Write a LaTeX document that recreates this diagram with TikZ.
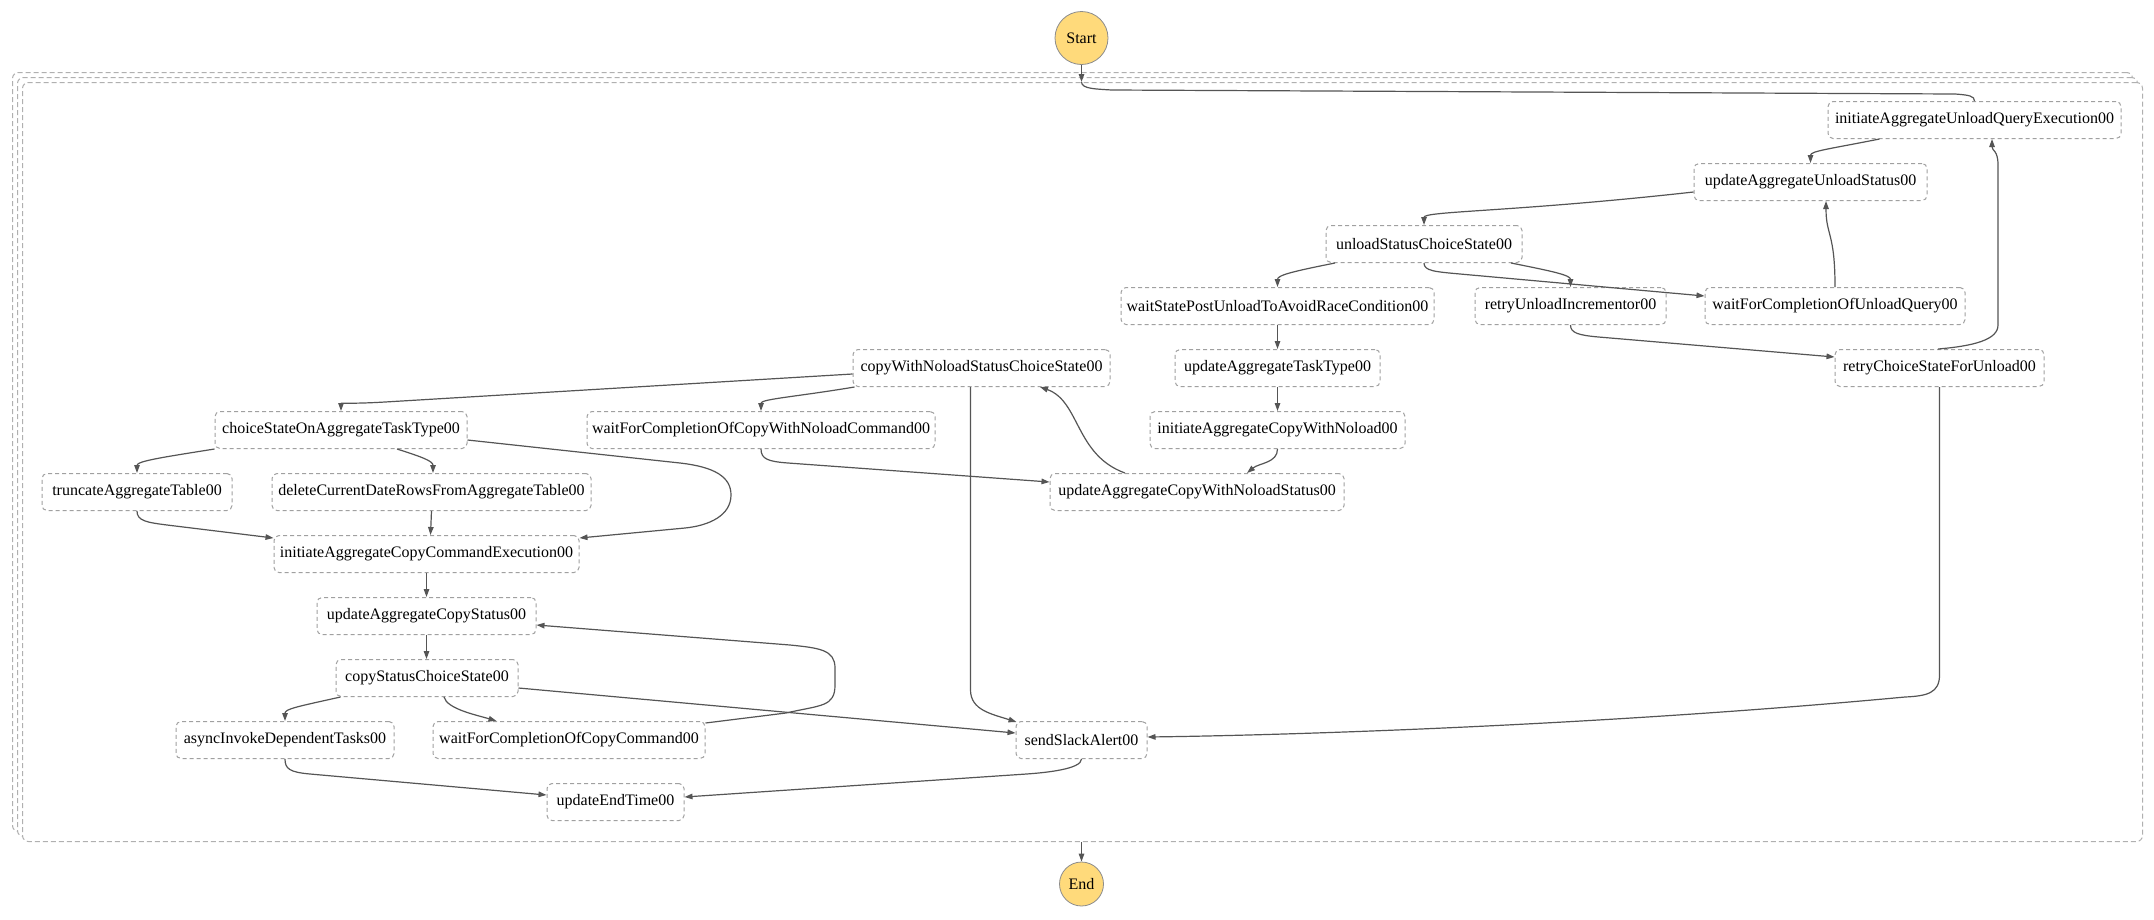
\documentclass[tikz,border=0pt]{standalone}
\usepackage{fontspec}
\setmainfont{Liberation Serif}
\usetikzlibrary{arrows.meta,calc}
\definecolor{boxgray}{HTML}{A0A0A0}
\definecolor{contgray}{HTML}{B0B0B0}
\definecolor{edgegray}{HTML}{555555}
\definecolor{termfill}{HTML}{FFDA7B}
\definecolor{termborder}{HTML}{8C8C8C}
\tikzset{
  statebox/.style={draw=boxgray, dash pattern=on 4pt off 3pt, rounded corners=5pt, fill=white,
    minimum height=37pt, inner sep=0pt, line width=1pt, font=\fontsize{16}{19}\selectfont},
  termnode/.style={circle, draw=termborder, fill=termfill, inner sep=0pt, line width=0.8pt,
    font=\fontsize{16}{19}\selectfont},
  contbox/.style={draw=contgray, dash pattern=on 5pt off 3pt, rounded corners=6pt, fill=white,
    inner sep=0pt, line width=1pt, anchor=north west, minimum width=2120pt, minimum height=759pt},
  link/.style={draw=edgegray, line width=1.2pt},
  flow/.style={link, -{Triangle[length=8pt,width=5.5pt]}},
}
\begin{document}
\begin{tikzpicture}[x=1pt,y=-1pt]
\fill[white] (0,0) rectangle (2154,919);
\useasboundingbox (0,0) rectangle (2154,919);

% container (stacked)
\node[contbox] (stackA) at (12,72) {};
\node[contbox] (stackB) at (17,77) {};
\node[contbox] (outer) at (22,82) {};

% terminals
\node[termnode, minimum size=53pt] (startnode) at (1081.5,38) {Start};
\node[termnode, minimum size=44pt] (endnode) at (1081.5,884) {End};

% states
\node[statebox, minimum width=293pt] (initUQE) at (1974.5,120) {initiateAggregateUnloadQueryExecution00};
\node[statebox, minimum width=233pt] (updUS) at (1810.5,182) {updateAggregateUnloadStatus00};
\node[statebox, minimum width=196pt] (unloadCS) at (1424,244) {unloadStatusChoiceState00};
\node[statebox, minimum width=313pt] (waitPost) at (1277.5,306) {waitStatePostUnloadToAvoidRaceCondition00};
\node[statebox, minimum width=191pt] (retryUI) at (1570.5,306) {retryUnloadIncrementor00};
\node[statebox, minimum width=260pt] (waitUQ) at (1835,306) {waitForCompletionOfUnloadQuery00};
\node[statebox, minimum width=257pt] (copyWNCS) at (981.5,368) {copyWithNoloadStatusChoiceState00};
\node[statebox, minimum width=205pt] (updTT) at (1277.5,368) {updateAggregateTaskType00};
\node[statebox, minimum width=209pt] (retryCS) at (1939.5,368) {retryChoiceStateForUnload00};
\node[statebox, minimum width=252pt] (choiceAT) at (341,430) {choiceStateOnAggregateTaskType00};
\node[statebox, minimum width=348pt] (waitCWN) at (761,430) {waitForCompletionOfCopyWithNoloadCommand00};
\node[statebox, minimum width=255pt] (initCWN) at (1277.5,430) {initiateAggregateCopyWithNoload00};
\node[statebox, minimum width=190pt] (truncate) at (137,492) {truncateAggregateTable00};
\node[statebox, minimum width=319pt] (deleteCD) at (431.5,492) {deleteCurrentDateRowsFromAggregateTable00};
\node[statebox, minimum width=294pt] (updCWNS) at (1197,492) {updateAggregateCopyWithNoloadStatus00};
\node[statebox, minimum width=305pt] (initCCE) at (426.5,554) {initiateAggregateCopyCommandExecution00};
\node[statebox, minimum width=219pt] (updCS) at (426.5,616) {updateAggregateCopyStatus00};
\node[statebox, minimum width=182pt] (copySCS) at (427,678) {copyStatusChoiceState00};
\node[statebox, minimum width=218pt] (asyncIDT) at (285,740) {asyncInvokeDependentTasks00};
\node[statebox, minimum width=272pt] (waitCC) at (569,740) {waitForCompletionOfCopyCommand00};
\node[statebox, minimum width=131pt] (sendSA) at (1081.5,740) {sendSlackAlert00};
\node[statebox, minimum width=137pt] (updET) at (615.5,802) {updateEndTime00};

\coordinate (entry) at (startnode |- outer.north);

% connectors
\draw[flow] (startnode) -- (entry);
\draw[link] (entry) .. controls +(0,7) and +(-15,-1) .. ($(entry)+(30,8)$) -- (1955,94)
  .. controls +(14,1) and +(0,-5) .. (initUQE.north);
\draw[flow] ($(initUQE.south)+(-95,0)$) .. controls +(-50,10) and +(0,-12) .. (updUS.north);
\draw[flow] ($(updUS.west)+(0,10)$) .. controls +(-180,20) and +(0,-14) .. (unloadCS.north);
\draw[flow] ($(unloadCS.south)+(-89,0)$) .. controls +(-40,8) and +(0,-12) .. (waitPost.north);
\draw[flow] ($(unloadCS.south)+(87,0)$) .. controls +(40,8) and +(0,-12) .. (retryUI.north);
\draw[flow] (unloadCS.south) .. controls +(0,8) and +(-25,-2.3) .. ($(unloadCS.south)+(36,11)$)
  -- ($(waitUQ.north west)+(0,9)$);
\draw[flow] (waitUQ.north) .. controls +(0,-55) and +(0,35) .. ($(updUS.south)+(15.5,0)$);
\draw[flow] (retryUI.south) .. controls +(0,8) and +(-20,-1.8) .. ($(retryUI.south)+(28,12)$)
  -- ($(retryCS.north west)+(0,8)$);
\draw[flow] ($(retryCS.north)+(-1.5,0)$) .. controls +(35,-3) and +(0,15) .. (1998,325) -- (1998,165)
  .. controls +(0,-15) and +(0,12) .. ($(initUQE.south)+(17.5,0)$);
\draw[flow] (retryCS.south) -- (1939.5,675) .. controls +(0,18) and +(22,-1) .. (1905,697)
  .. controls +(-300,28) and +(150,-2) .. ($(sendSA.east)+(0,-3)$);
\draw[flow] (waitPost) -- (updTT);
\draw[flow] (updTT) -- (initCWN);
\draw[flow] (initCWN.south) .. controls +(0,14) and +(12,-10) .. ($(updCWNS.north)+(50,0)$);
\draw[flow] ($(updCWNS.north)+(-72,0)$) .. controls +(-50,-18) and +(40,14) .. ($(copyWNCS.south)+(58.5,0)$);
\draw[flow] ($(copyWNCS.west)+(0,6)$) -- (385,402) .. controls +(-30,1.8) and +(0,-8) .. (choiceAT.north);
\draw[flow] ($(copyWNCS.south west)+(2,0)$) .. controls +(-60,10) and +(0,-12) .. (waitCWN.north);
\draw[flow] ($(copyWNCS.south)+(-11,0)$) -- (970.5,690) .. controls +(0,20) and +(-25,-8) .. ($(sendSA.north west)+(1,1)$);
\draw[flow] (waitCWN.south) .. controls +(0,10) and +(-20,-1.5) .. ($(waitCWN.south)+(27,14)$)
  -- ($(updCWNS.west)+(0,-10)$);
\draw[flow] (choiceAT.south west) .. controls +(-50,8) and +(0,-12) .. (truncate.north);
\draw[flow] ($(choiceAT.south)+(56,0)$) .. controls +(25,8) and +(0,-12) .. ($(deleteCD.north)+(1.5,0)$);
\draw[flow] ($(choiceAT.east)+(0,10)$) -- (680,463) .. controls +(35,4) and +(0,-18) .. (731,495)
  .. controls +(0,20) and +(25,-2.5) .. (685,528) -- ($(initCCE.north east)+(0,3)$);
\draw[flow] (truncate.south) .. controls +(0,10) and +(-20,-2.6) .. ($(truncate.south)+(30,14)$)
  -- ($(initCCE.north west)+(0,3)$);
\draw[flow] (deleteCD.south) -- ($(initCCE.north)+(4,0)$);
\draw[flow] (initCCE) -- (updCS);
\draw[flow] (updCS.south) -- (updCS.south |- copySCS.north);
\draw[flow] ($(copySCS.south west)+(5,0)$) .. controls +(-45,10) and +(0,-12) .. (asyncIDT.north);
\draw[flow] ($(copySCS.south)+(17,0)$) .. controls +(3,12) and +(-20,-6) .. ($(waitCC.north west)+(64,0)$);
\draw[flow] ($(copySCS.east)+(0,10)$) -- ($(sendSA.west)+(0,-7)$);
\draw[flow] ($(waitCC.north east)+(0,2)$) -- (786,713) .. controls +(35,-8) and +(0,22) .. (835,685) -- (835,668)
  .. controls +(0,-18) and +(30,3) .. (790,645) -- ($(updCS.east)+(0,9)$);
\draw[flow] (asyncIDT.south) .. controls +(0,10) and +(-20,-1.8) .. ($(asyncIDT.south)+(25,15)$)
  -- ($(updET.west)+(0,-7)$);
\draw[flow] (sendSA.south) .. controls +(0,10) and +(20,-1.4) .. ($(sendSA.south)+(-55,15)$)
  -- ($(updET.east)+(0,-5)$);
\draw[flow] (endnode |- outer.south) -- (endnode);
\end{tikzpicture}
\end{document}
